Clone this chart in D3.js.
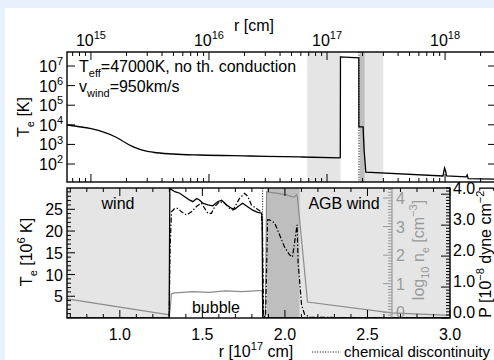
<!DOCTYPE html>
<html><head><meta charset="utf-8">
<script src="https://cdn.jsdelivr.net/npm/d3@7"></script>
<style>
html,body{margin:0;padding:0;background:#e8f0fc;}
svg{display:block;font-family:"Liberation Sans",Arial,Helvetica,sans-serif;}
</style></head><body>
<svg id="c" width="494" height="360"></svg>
<script>
// ---------------- DATA ----------------
// top panel: radius [cm] vs electron temperature [K]
const topRDomain = [6.27e14, 2.70e18];
const topTDomain = [12.1, 5.18e7];
const topR = [6.27e14, 1.60e15, 1.85e15, 2.15e15, 2.60e15, 3.37e15, 4.98e15, 8.39e15, 2.22e16, 5.90e16, 1.295e17, 1.30e17, 1.86e17, 1.862e17, 2.02e17, 2.06e17, 2.13e17, 9.6e17, 9.9e17, 1.01e18, 1.03e18, 1.51e18, 1.54e18, 1.57e18, 2.7e18];
const topT = [9.8e3, 2.45e3, 1.5e3, 900, 562, 398, 324, 288, 257, 229, 204, 2.9e7, 2.6e7, 7.8e3, 7.8e3, 515, 39, 24.6, 63, 44, 24.6, 22, 27.5, 18, 17];
const topXTicks = [1e15, 1e16, 1e17, 1e18];
const topYTicks = [1e2, 1e3, 1e4, 1e5, 1e6, 1e7];

// regions (units of 1e17 cm)
const windRange = [0.68, 1.30];
const shellRange = [1.89, 2.09];
const agbRange = [2.09, 3.0];
const chemDisc = 1.865;

// bottom panel
const botRDomain = [0.68, 3.0];
const teDomain = [0, 29.9];
const pDomain = [0, 4.2];
const neDomain = [-0.2, 4.35];
const teR = [0.68, 1.299, 1.301, 1.303, 1.333, 1.363, 1.393, 1.424, 1.442, 1.466, 1.484, 1.502, 1.532, 1.563, 1.593, 1.617, 1.647, 1.678, 1.696, 1.714, 1.744, 1.774, 1.805, 1.835, 1.859, 1.862, 1.866, 3.0];
const teV = [0.01, 0.01, 15, 29.8, 29.05, 28.7, 27.9, 27.1, 26.75, 27.5, 27.1, 26.4, 26.0, 25.8, 26.75, 27.1, 26.0, 25.2, 25.0, 25.6, 26.4, 25.6, 24.8, 24.3, 24.1, 22.5, 0.01, 0.01];
const pR = [0.68, 1.299, 1.304, 1.313, 1.333, 1.353, 1.373, 1.404, 1.434, 1.464, 1.494, 1.514, 1.534, 1.555, 1.575, 1.605, 1.635, 1.665, 1.686, 1.726, 1.756, 1.776, 1.797, 1.827, 1.857, 1.864, 1.871, 1.883, 1.895, 1.907, 1.938, 1.968, 1.998, 2.028, 2.046, 2.071, 2.074, 2.080, 2.101, 2.119, 2.15, 3.0];
const pV = [0, 0, 2.2, 3.43, 3.54, 3.54, 3.43, 3.33, 3.43, 3.60, 3.71, 3.54, 3.38, 3.38, 3.60, 3.76, 3.71, 3.54, 3.49, 3.87, 4.03, 3.92, 3.65, 3.54, 3.43, 2.8, 0.05, 0.05, 3.17, 3.17, 3.07, 2.68, 2.29, 2.04, 1.97, 2.91, 3.01, 1.78, 0.42, 0.12, 0.02, 0];
const neR = [0.68, 1.0, 1.30, 1.305, 1.312, 1.33, 1.36, 1.44, 1.54, 1.64, 1.74, 1.84, 1.862, 1.868, 1.882, 1.889, 1.95, 2.01, 2.04, 2.058, 2.07, 2.076, 2.137, 2.645, 3.0];
const neV = [0.47, 0.18, -0.09, 0.10, 0.64, 0.68, 0.69, 0.72, 0.70, 0.75, 0.72, 0.76, 0.76, -0.13, -0.13, 4.21, 4.17, 4.11, 4.05, 4.04, 4.11, 4.04, 0.36, -0.02, -0.11];
const botXTicks = [1.0, 1.5, 2.0, 2.5, 3.0];
const teTicks = [5, 10, 15, 20, 25];
const pTicks = [0, 1, 2, 3, 4];
const neTicks = [0, 1, 2, 3, 4];

// ---------------- DRAW ----------------
const W = 494, H = 360, FS = 16;
const LIGHT = '#e5e5e5', DARK = '#bebebe', GRAY = '#8c8c8c', GRAYAX = '#9a9a9a';
const svg = d3.select('#c');
svg.append('rect').attr('width', W).attr('height', H).attr('fill', '#e8f0fc');
svg.append('rect').attr('x', 5).attr('y', 8).attr('width', W - 5).attr('height', H - 8).attr('fill', '#fff');
const defs = svg.append('defs');

function rich(t, parts, base) {
  base = base || FS;
  const subDy = 0.3 * base, supDy = 0.42 * base, small = Math.round(0.68 * base);
  let prev = 'n';
  parts.forEach(([s, k]) => {
    const ts = t.append('tspan').text(s);
    let dy = 0;
    if (prev === 'sub') dy -= subDy; if (prev === 'sup') dy += supDy;
    if (k === 'sub') dy += subDy; if (k === 'sup') dy -= supDy;
    if (dy) ts.attr('dy', dy);
    if (k !== 'n') ts.attr('font-size', small);
    prev = k;
  });
  return t;
}
function txt(g, x, y, anchor, size, fill) {
  return g.append('text').attr('x', x).attr('y', y).attr('text-anchor', anchor || 'start')
    .attr('font-size', size || FS).attr('fill', fill || '#000');
}
function vtxt(g, x, y, size, fill) {
  return g.append('text').attr('transform', `translate(${x},${y}) rotate(-90)`).attr('text-anchor', 'middle')
    .attr('font-size', size || FS).attr('fill', fill || '#000');
}
function tick(g, x1, y1, x2, y2, col, w) {
  return g.append('line').attr('x1', x1).attr('y1', y1).attr('x2', x2).attr('y2', y2)
    .attr('stroke', col || '#000').attr('stroke-width', w || 1);
}

// ===== TOP PANEL =====
const TP = {l: 67, r: 496, t: 52, b: 182};
const xT = d3.scaleLog().domain(topRDomain).range([TP.l, TP.r]);
const yT = d3.scaleLog().domain(topTDomain).range([TP.b, TP.t]);
defs.append('clipPath').attr('id', 'ct').append('rect').attr('x', TP.l).attr('y', TP.t).attr('width', TP.r - TP.l).attr('height', TP.b - TP.t);
const gT = svg.append('g');
const gTc = gT.append('g').attr('clip-path', 'url(#ct)');
[[windRange, LIGHT], [shellRange, DARK], [agbRange, LIGHT]].forEach(([rg, c]) => {
  gTc.append('rect').attr('x', xT(rg[0] * 1e17)).attr('width', xT(rg[1] * 1e17) - xT(rg[0] * 1e17))
    .attr('y', TP.t).attr('height', TP.b - TP.t).attr('fill', c);
});
gTc.append('line').attr('x1', xT(chemDisc * 1e17)).attr('x2', xT(chemDisc * 1e17)).attr('y1', TP.t).attr('y2', TP.b)
  .attr('stroke', '#000').attr('stroke-width', 1).attr('stroke-dasharray', '1,1.6');
gTc.append('path').attr('d', d3.line().curve(d3.curveMonotoneX).x(d => xT(d[0])).y(d => yT(d[1]))(d3.zip(topR.slice(0, 11), topT.slice(0, 11))))
  .attr('fill', 'none').attr('stroke', '#000').attr('stroke-width', 1.3);
gTc.append('path').attr('d', d3.line().x(d => xT(d[0])).y(d => yT(d[1]))(d3.zip(topR.slice(10), topT.slice(10))))
  .attr('fill', 'none').attr('stroke', '#000').attr('stroke-width', 1.3);
gT.append('rect').attr('x', TP.l).attr('y', TP.t).attr('width', TP.r - TP.l).attr('height', TP.b - TP.t)
  .attr('fill', 'none').attr('stroke', '#000').attr('stroke-width', 1.4);
// x ticks
for (let e = 14; e <= 18; e++) {
  for (let k = 1; k <= 9; k++) {
    const v = k * Math.pow(10, e);
    if (v < topRDomain[0] || v > topRDomain[1]) continue;
    const x = xT(v), L = k === 1 ? 8 : 4;
    tick(gT, x, TP.t, x, TP.t + L); tick(gT, x, TP.b, x, TP.b - L);
  }
}
topXTicks.forEach(v => {
  rich(txt(gT, xT(v), 46, 'middle'), [['10', 'n'], [String(Math.round(Math.log10(v))), 'sup']]);
});
topYTicks.forEach(v => {
  const y = yT(v);
  tick(gT, TP.l, y, TP.l + 8, y); tick(gT, TP.r, y, TP.r - 8, y);
  rich(txt(gT, 63, y + 6, 'end'), [['10', 'n'], [String(Math.round(Math.log10(v))), 'sup']]);
});
txt(gT, 254, 31, 'middle').text('r [cm]');
rich(vtxt(gT, 29, 117), [['T', 'n'], ['e', 'sub'], [' [K]', 'n']]);
rich(txt(gT, 79, 72), [['T', 'n'], ['eff', 'sub'], ['=47000K, no th. conduction', 'n']]);
rich(txt(gT, 79, 92), [['v', 'n'], ['wind', 'sub'], ['=950km/s', 'n']]);

// ===== BOTTOM PANEL =====
const BP = {l: 67, r: 450, t: 188, b: 318};
const xB = d3.scaleLinear().domain(botRDomain).range([BP.l, BP.r]);
const yTe = d3.scaleLinear().domain(teDomain).range([BP.b, BP.t]);
const yP = d3.scaleLinear().domain(pDomain).range([BP.b, BP.t]);
const yNe = d3.scaleLinear().domain(neDomain).range([BP.b, BP.t]);
defs.append('clipPath').attr('id', 'cb').append('rect').attr('x', BP.l).attr('y', BP.t).attr('width', BP.r - BP.l).attr('height', BP.b - BP.t);
const gB = svg.append('g');
const gBc = gB.append('g').attr('clip-path', 'url(#cb)');
[[windRange, LIGHT], [shellRange, DARK], [agbRange, LIGHT]].forEach(([rg, c]) => {
  gBc.append('rect').attr('x', xB(rg[0])).attr('width', xB(rg[1]) - xB(rg[0]))
    .attr('y', BP.t).attr('height', BP.b - BP.t).attr('fill', c);
});
txt(gB, 118, 209, 'middle').text('wind');
txt(gB, 216, 313, 'middle').text('bubble');
txt(gB, 344, 209, 'middle').text('AGB wind');

gBc.append('path').attr('d', d3.line().x(d => xB(d[0])).y(d => yNe(d[1]))(d3.zip(neR, neV)))
  .attr('fill', 'none').attr('stroke', GRAY).attr('stroke-width', 1.2);
gBc.append('line').attr('x1', xB(chemDisc)).attr('x2', xB(chemDisc)).attr('y1', BP.t).attr('y2', BP.b)
  .attr('stroke', '#000').attr('stroke-width', 1).attr('stroke-dasharray', '1,1.6');
gBc.append('path').attr('d', d3.line().x(d => xB(d[0])).y(d => yP(d[1]))(d3.zip(pR, pV)))
  .attr('fill', 'none').attr('stroke', '#000').attr('stroke-width', 1.2).attr('stroke-dasharray', '5,2,1.4,2');
gBc.append('path').attr('d', d3.line().x(d => xB(d[0])).y(d => yTe(d[1]))(d3.zip(teR, teV)))
  .attr('fill', 'none').attr('stroke', '#000').attr('stroke-width', 1.3);

// n_e axis (gray, inside plot)
const NEX = 392;
tick(gB, NEX, BP.t, NEX, BP.b, GRAYAX, 1.2);
d3.range(Math.ceil(neDomain[0] * 10), Math.floor(neDomain[1] * 10) + 1).forEach(i => {
  const v = i / 10, y = yNe(v), major = i % 10 === 0;
  tick(gB, NEX, y, NEX - (major ? 9 : 4), y, GRAYAX, 1);
});
neTicks.forEach(v => txt(gB, 396, yNe(v) + 6, 'start', FS, GRAYAX).text(String(v)));
rich(vtxt(gB, 424, 250, FS, GRAYAX), [['log', 'n'], ['10', 'sub'], [' n', 'n'], ['e', 'sub'], [' [cm', 'n'], ['\u22123', 'sup'], [']', 'n']]);

// frame
gB.append('rect').attr('x', BP.l).attr('y', BP.t).attr('width', BP.r - BP.l).attr('height', BP.b - BP.t)
  .attr('fill', 'none').attr('stroke', '#000').attr('stroke-width', 1.4);
// x ticks
d3.range(7, 31).forEach(i => {
  const v = i / 10; if (v < botRDomain[0] || v > botRDomain[1]) return;
  const x = xB(v), L = (i % 5 === 0) ? 8 : 4;
  tick(gB, x, BP.b, x, BP.b - L); tick(gB, x, BP.t, x, BP.t + L);
});
botXTicks.forEach(v => txt(gB, xB(v), 340, 'middle').text(v.toFixed(1)));
// left T ticks
d3.range(1, 30).forEach(v => {
  const y = yTe(v), L = v % 5 === 0 ? 8 : 4;
  tick(gB, BP.l, y, BP.l + L, y);
});
teTicks.forEach(v => txt(gB, 63, yTe(v) + 6, 'end').text(String(v)));
rich(vtxt(gB, 32, 252), [['T', 'n'], ['e', 'sub'], [' [10', 'n'], ['6', 'sup'], [' K]', 'n']]);
// right P ticks
d3.range(0, Math.floor(pDomain[1] * 10) + 1).forEach(i => {
  const y = yP(i / 10), major = i % 10 === 0;
  tick(gB, BP.r, y, BP.r - (major ? 9 : 4), y);
});
pTicks.forEach(v => txt(gB, 453, yP(v)).text(v.toFixed(1)));
rich(vtxt(gB, 491, 252), [['P [10', 'n'], ['\u22128', 'sup'], [' dyne cm', 'n'], ['\u22122', 'sup'], [']', 'n']]);

// x title and legend
rich(txt(gB, 256, 357, 'middle'), [['r [10', 'n'], ['17', 'sup'], [' cm]', 'n']]);
const leg = txt(gB, 490, 357, 'end', 15).text('chemical discontinuity');
const lw = leg.node().getComputedTextLength();
tick(gB, 490 - lw - 32, 352, 490 - lw - 5, 352).attr('stroke-dasharray', '1,1.6');
</script>
</body></html>
